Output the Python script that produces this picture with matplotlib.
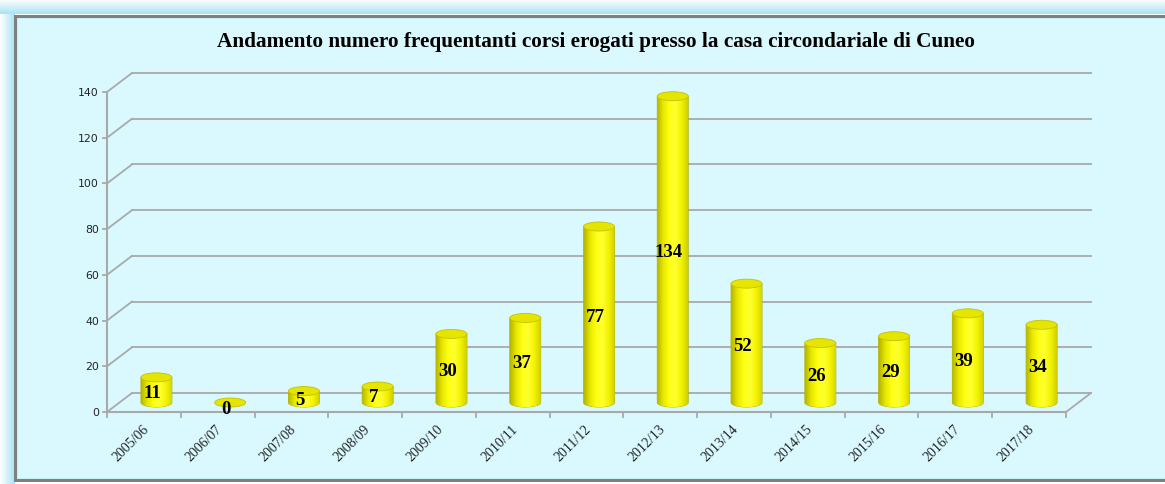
import numpy as np
import matplotlib
matplotlib.use("Agg")
import matplotlib.pyplot as plt
from matplotlib.patches import Rectangle, Ellipse, Polygon
from matplotlib.colors import LinearSegmentedColormap

# data
years = ["2005/06", "2006/07", "2007/08", "2008/09", "2009/10", "2010/11", "2011/12",
         "2012/13", "2013/14", "2014/15", "2015/16", "2016/17", "2017/18"]
values = [11, 0, 5, 7, 30, 37, 77, 134, 52, 26, 29, 39, 34]
yticks = [0, 20, 40, 60, 80, 100, 120, 140]
title = "Andamento numero frequentanti corsi erogati presso la casa circondariale di Cuneo"

W, H = 1165, 485
fig = plt.figure(figsize=(W / 100, H / 100), dpi=100)

# background / frame in pixel coords
bg = fig.add_axes([0, 0, 1, 1])
bg.set_xlim(0, W)
bg.set_ylim(H, 0)
bg.axis("off")
bg.add_patch(Rectangle((0, 0), W, H, color="white"))
glow = np.linspace(0, 1, 50).reshape(-1, 1)
glow_cmap = LinearSegmentedColormap.from_list("g", ["#ffffff", "#a9e3f5"])
bg.imshow(glow, extent=(0, W, 15, 0), cmap=glow_cmap, aspect="auto", zorder=1)
bg.imshow(glow.T, extent=(0, 15, H, 15), cmap=glow_cmap, aspect="auto", zorder=1)
bg.add_patch(Rectangle((14, 16), W, 467, facecolor="#808080", edgecolor="none", zorder=2))
bg.add_patch(Rectangle((17, 19), W, 461, facecolor="#c6eef6", edgecolor="none", zorder=3))
bg.add_patch(Rectangle((18, 20), W, 459, facecolor="#d9f9fe", edgecolor="none", zorder=3))
bg.text(596, 42, title, ha="center", va="center", fontsize=15.3, fontweight="bold",
        family="Liberation Serif", zorder=5)

# chart axes: front plane from x=107..1066, y=413 (0) .. 93 (140)
left, right, y0, y140 = 107, 1066, 413, 93
ax = fig.add_axes([left / W, (H - y0) / H, (right - left) / W, (y0 - y140) / H])
n = len(years)
ax.set_xlim(0, n)
ax.set_ylim(0, 140)
ax.axis("off")

px_x = n / (right - left)       # data units per pixel horizontally
px_y = 140 / (y0 - y140)        # data units per pixel vertically
dx, dy = 25 * px_x, 19 * px_y   # depth offset
grid_c = "#a9a9a9"

for t in yticks:
    ax.plot([n + dx, dx], [t + dy, t + dy], color=grid_c, lw=1.3, clip_on=False)
    ax.plot([0, dx], [t, t + dy], color=grid_c, lw=1.3, clip_on=False)
    ax.plot([-4 * px_x, 0], [t, t], color=grid_c, lw=1.3, clip_on=False)
    ax.text(-8 * px_x, t, str(t), ha="right", va="center", fontsize=7.8,
            family="DejaVu Sans", color="#222222")
ax.plot([0, 0], [0, 140], color=grid_c, lw=1.5, clip_on=False)
ax.plot([0, n], [0, 0], color=grid_c, lw=1.5, clip_on=False)
ax.plot([n, n + dx], [0, dy], color=grid_c, lw=1.3, clip_on=False)
for i in range(n + 1):
    ax.plot([i, i], [0, -5 * px_y], color=grid_c, lw=1.3, clip_on=False)

for i, lab in enumerate(years):
    ax.text(i + 0.5 - 2 * px_x, -10 * px_y, lab, rotation=45, ha="right", va="top",
            rotation_mode="anchor", fontsize=10, family="Liberation Serif", color="#222222")

# cylinders
body_cmap = LinearSegmentedColormap.from_list(
    "cyl", ["#b5b500", "#e8e800", "#ffff14", "#ffff30", "#f2f200", "#cfcf00"])
grad = np.linspace(0, 1, 200).reshape(1, -1)
bw = 31 * px_x
eh = 9 * px_y
base = dy / 2
theta = np.linspace(np.pi, 2 * np.pi, 40)

for i, v in enumerate(values):
    cx = i + 0.5 + dx / 2
    top = base + v
    if v > 0:
        xs = cx + bw / 2 * np.cos(theta)
        ys = base + eh / 2 * np.sin(theta)
        verts = [(cx - bw / 2, top)] + list(zip(xs, ys)) + [(cx + bw / 2, top), (cx - bw / 2, top)]
        poly = Polygon(verts, closed=True, facecolor="none", edgecolor="#b0b000", lw=0.6,
                       clip_on=False, zorder=3)
        ax.add_patch(poly)
        im = ax.imshow(grad, extent=(cx - bw / 2, cx + bw / 2, base - eh, top), cmap=body_cmap,
                       aspect="auto", zorder=3, interpolation="bilinear")
        im.set_clip_path(poly)
    ax.add_patch(Ellipse((cx, top), bw, eh, facecolor="#e5e500", edgecolor="#c2c200",
                         lw=0.6, zorder=4, clip_on=False))
    ax.text(cx - 4 * px_x, base + v / 2 - 2.5 * px_y if v > 0 else base - 6 * px_y, str(v),
            ha="center", va="center", fontsize=13.5, fontweight="bold",
            family="Liberation Serif", zorder=5)

ax.set_xlim(0, n)
ax.set_ylim(0, 140)
fig.savefig("out.png", dpi=100)
